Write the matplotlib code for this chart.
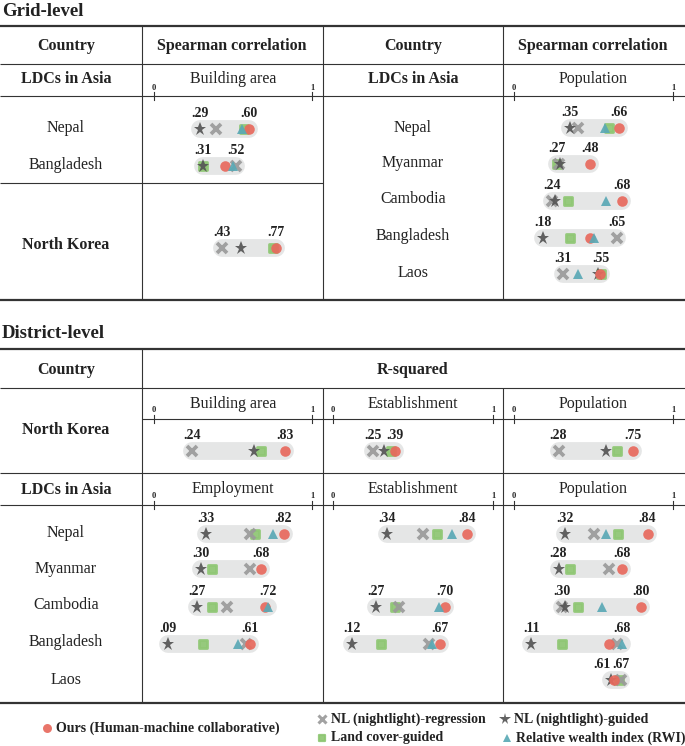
import numpy as np
import matplotlib
matplotlib.use("Agg")
import matplotlib.pyplot as plt
from matplotlib.markers import MarkerStyle

nan = np.nan

# ---------------- data ----------------
methods = ["Ours (Human-machine collaborative)", "NL (nightlight)-regression",
           "NL (nightlight)-guided", "Land cover-guided", "Relative wealth index (RWI)"]

# Grid-level, Spearman correlation, building area
grid_ba_countries = ["Nepal", "Bangladesh", "North Korea"]
grid_ba_ours = [0.60, 0.45, 0.77]
grid_ba_nlreg = [0.39, 0.52, 0.43]
grid_ba_nlguided = [0.29, 0.31, 0.55]
grid_ba_landcover = [0.57, 0.31, 0.75]
grid_ba_rwi = [0.56, 0.50, nan]

# Grid-level, Spearman correlation, population
grid_pop_countries = ["Nepal", "Myanmar", "Cambodia", "Bangladesh", "Laos"]
grid_pop_ours = [0.66, 0.48, 0.68, 0.48, 0.54]
grid_pop_nlreg = [0.40, 0.28, 0.24, 0.65, 0.31]
grid_pop_nlguided = [0.35, 0.29, 0.26, 0.18, 0.53]
grid_pop_landcover = [0.60, 0.27, 0.34, 0.35, 0.55]
grid_pop_rwi = [0.57, nan, 0.58, 0.50, 0.40]

# District-level, R-squared, North Korea
nk_tasks = ["Building area", "Establishment", "Population"]
nk_ours = [0.83, 0.39, 0.75]
nk_nlreg = [0.24, 0.25, 0.28]
nk_nlguided = [0.63, 0.32, 0.58]
nk_landcover = [0.68, 0.36, 0.65]
nk_rwi = [nan, nan, nan]

# District-level, R-squared, LDCs in Asia
ldc_countries = ["Nepal", "Myanmar", "Cambodia", "Bangladesh", "Laos"]
ldc_tasks = ["Employment", "Establishment", "Population"]
emp_ours = [0.82, 0.68, 0.70, 0.61, nan]
emp_nlreg = [0.61, 0.61, 0.46, 0.58, nan]
emp_nlguided = [0.33, 0.30, 0.27, 0.09, nan]
emp_landcover = [0.64, 0.365, 0.37, 0.31, nan]
emp_rwi = [0.75, nan, 0.72, 0.53, nan]

est_ours = [0.84, nan, 0.70, 0.67, nan]
est_nlreg = [0.565, nan, 0.41, 0.60, nan]
est_nlguided = [0.34, nan, 0.27, 0.12, nan]
est_landcover = [0.65, nan, 0.39, 0.30, nan]
est_rwi = [0.745, nan, 0.66, 0.62, nan]

pop_ours = [0.84, 0.68, 0.80, 0.60, 0.63]
pop_nlreg = [0.50, 0.60, 0.30, 0.645, 0.67]
pop_nlguided = [0.32, 0.28, 0.32, 0.11, 0.61]
pop_landcover = [0.656, 0.35, 0.40, 0.30, 0.66]
pop_rwi = [0.58, nan, 0.555, 0.68, nan]

# ---------------- style ----------------
W, H = 685, 746
SERIF = ["Liberation Serif", "DejaVu Serif"]
LINE = "#333333"
PILL = "#e5e6e6"
RED = "#e8695d"
GRAYX = "#9a9a9a"
STAR = "#555555"
GREEN = "#8fc774"
TEAL = "#5aa9b5"

mstyles = [
    dict(marker="o", ms=7.6, color=RED, mec=RED, mew=0, z=6),
    dict(marker="x", ms=6.5, color=GRAYX, mec=GRAYX, mew=2.7, z=4),
    dict(marker="*", ms=9.8, color=STAR, mec=STAR, mew=0, z=5),
    dict(marker=MarkerStyle("s", joinstyle="round"), ms=5.8, color=GREEN, mec=GREEN, mew=2.0, z=3),
    dict(marker="^", ms=7.2, color=TEAL, mec=TEAL, mew=0, z=7),
]

fig = plt.figure(figsize=(W / 100, H / 100), dpi=100)
bg = fig.add_axes([0, 0, 1, 1])
bg.set_xlim(0, W)
bg.set_ylim(H, 0)
bg.axis("off")


def hline(y, x0=0, x1=W, lw=0.8):
    bg.plot([x0, x1], [y, y], color=LINE, lw=lw, solid_capstyle="butt")


def vline(x, y0, y1, lw=0.8):
    bg.plot([x, x], [y0, y1], color=LINE, lw=lw, solid_capstyle="butt")


def txt(x, y, s, size=11.5, bold=False, ha="center"):
    bg.text(x, y, s, ha=ha, va="center", fontsize=size,
            fontweight="bold" if bold else "normal", family=SERIF, color="#222222")


def panel_axes(x0, x1, yc, h=40):
    ax = fig.add_axes([x0 / W, 1 - (yc + h / 2) / H, (x1 - x0) / W, h / H])
    ax.set_xlim(0, 1)
    ax.set_ylim(h / 2, -h / 2)
    ax.axis("off")
    return ax


def axis_ticks(x0, x1, yc):
    ax = panel_axes(x0, x1, yc, 30)
    for v in (0, 1):
        ax.plot([v, v], [-4, 3.5], color=LINE, lw=0.8, clip_on=False)
        ax.text(v, -8.5, str(v), ha="center", va="center", fontsize=6,
                fontweight="bold", family=SERIF, color="#222222")


def fmt(v):
    return f"{v:.2f}"[1:]


def draw_row(x0, x1, yc, vals):
    arr = np.array(vals, dtype=float)
    if np.all(np.isnan(arr)):
        return
    ax = panel_axes(x0, x1, yc, 40)
    lo, hi = np.nanmin(arr), np.nanmax(arr)
    ax.plot([lo, hi], [0, 0], lw=12.8, color=PILL, solid_capstyle="round",
            zorder=1, clip_on=False)
    for v, st in zip(arr, mstyles):
        if np.isnan(v):
            continue
        ax.plot([v], [0], linestyle="none", marker=st["marker"], ms=st["ms"],
                color=st["color"], mec=st["mec"], mew=st["mew"], alpha=0.92,
                zorder=st["z"], clip_on=False)
    close = (hi - lo) < 0.1
    ax.text(lo - (0.005 if close else 0), -15.5, fmt(lo), ha="right" if close else "center",
            va="center", fontsize=10, fontweight="bold", family=SERIF, color="#222222")
    ax.text(hi, -15.5, fmt(hi), ha="center", va="center", fontsize=10,
            fontweight="bold", family=SERIF, color="#222222")


PL = (154, 312)
PM = (333, 493)
PR = (514, 673)

# ---------------- Grid-level ----------------
txt(2, 11, "Grid-level", size=13.5, bold=True, ha="left")
hline(26, lw=1.6)
hline(64)
hline(96)
hline(183, 0, 323)
hline(300, lw=1.6)
for x in (142, 323, 503):
    vline(x, 26, 300)

txt(66, 46, "Country", bold=True)
txt(232, 46, "Spearman correlation", bold=True)
txt(413, 46, "Country", bold=True)
txt(593, 46, "Spearman correlation", bold=True)
txt(66, 79, "LDCs in Asia", bold=True)
txt(233, 79, "Building area")
txt(413, 79, "LDCs in Asia", bold=True)
txt(593, 79, "Population")
axis_ticks(*PL, 96)
axis_ticks(*PR, 96)

grid_ba_y = [129, 166, 248]
grid_ba_label_y = [128, 165, 245]
for i, c in enumerate(grid_ba_countries):
    txt(66, grid_ba_label_y[i], c, bold=(c == "North Korea"))
    draw_row(*PL, grid_ba_y[i], [grid_ba_ours[i], grid_ba_nlreg[i], grid_ba_nlguided[i],
                                 grid_ba_landcover[i], grid_ba_rwi[i]])

grid_pop_y = [128, 164, 201, 238, 274]
grid_pop_label_y = [128, 163, 199, 236, 273]
for i, c in enumerate(grid_pop_countries):
    txt(413, grid_pop_label_y[i], c)
    draw_row(*PR, grid_pop_y[i], [grid_pop_ours[i], grid_pop_nlreg[i], grid_pop_nlguided[i],
                                  grid_pop_landcover[i], grid_pop_rwi[i]])

# ---------------- District-level ----------------
txt(2, 333, "District-level", size=13.5, bold=True, ha="left")
hline(349, lw=1.6)
hline(388)
hline(419, 142, W)
hline(473)
hline(505)
hline(703, lw=1.6)
vline(142, 349, 703)
vline(323, 388, 703)
vline(503, 388, 703)

txt(66, 370, "Country", bold=True)
txt(413, 370, "R-squared", bold=True)
txt(66, 430, "North Korea", bold=True)
txt(66, 490, "LDCs in Asia", bold=True)

panels = [PL, PM, PR]
nk_data = [nk_ours, nk_nlreg, nk_nlguided, nk_landcover, nk_rwi]
for j, (p, t) in enumerate(zip(panels, nk_tasks)):
    txt((p[0] + p[1]) / 2, 404, t)
    axis_ticks(*p, 419)
    draw_row(*p, 451, [s[j] for s in nk_data])

ldc_data = [
    [emp_ours, emp_nlreg, emp_nlguided, emp_landcover, emp_rwi],
    [est_ours, est_nlreg, est_nlguided, est_landcover, est_rwi],
    [pop_ours, pop_nlreg, pop_nlguided, pop_landcover, pop_rwi],
]
ldc_y = [534, 569, 607, 644, 680]
ldc_label_y = [533, 569, 605, 642, 680]
for i, c in enumerate(ldc_countries):
    txt(66, ldc_label_y[i], c)
for j, (p, t) in enumerate(zip(panels, ldc_tasks)):
    txt((p[0] + p[1]) / 2, 489, t)
    axis_ticks(*p, 505)
    for i in range(len(ldc_countries)):
        draw_row(*p, ldc_y[i], [s[i] for s in ldc_data[j]])

# ---------------- Legend ----------------
leg_pos = [(47, 728), (322, 719), (505, 719), (322, 738), (507, 738)]
for (x, y), st, name in zip(leg_pos, mstyles, methods):
    bg.plot([x], [y], linestyle="none", marker=st["marker"], ms=st["ms"] * 0.85,
            color=st["color"], mec=st["mec"], mew=st["mew"] * 0.8, alpha=0.92)
    bg.text(x + 9, y, name, ha="left", va="center", fontsize=10, fontweight="bold",
            family=SERIF, color="#222222")

fig.savefig("out.png", dpi=100)
